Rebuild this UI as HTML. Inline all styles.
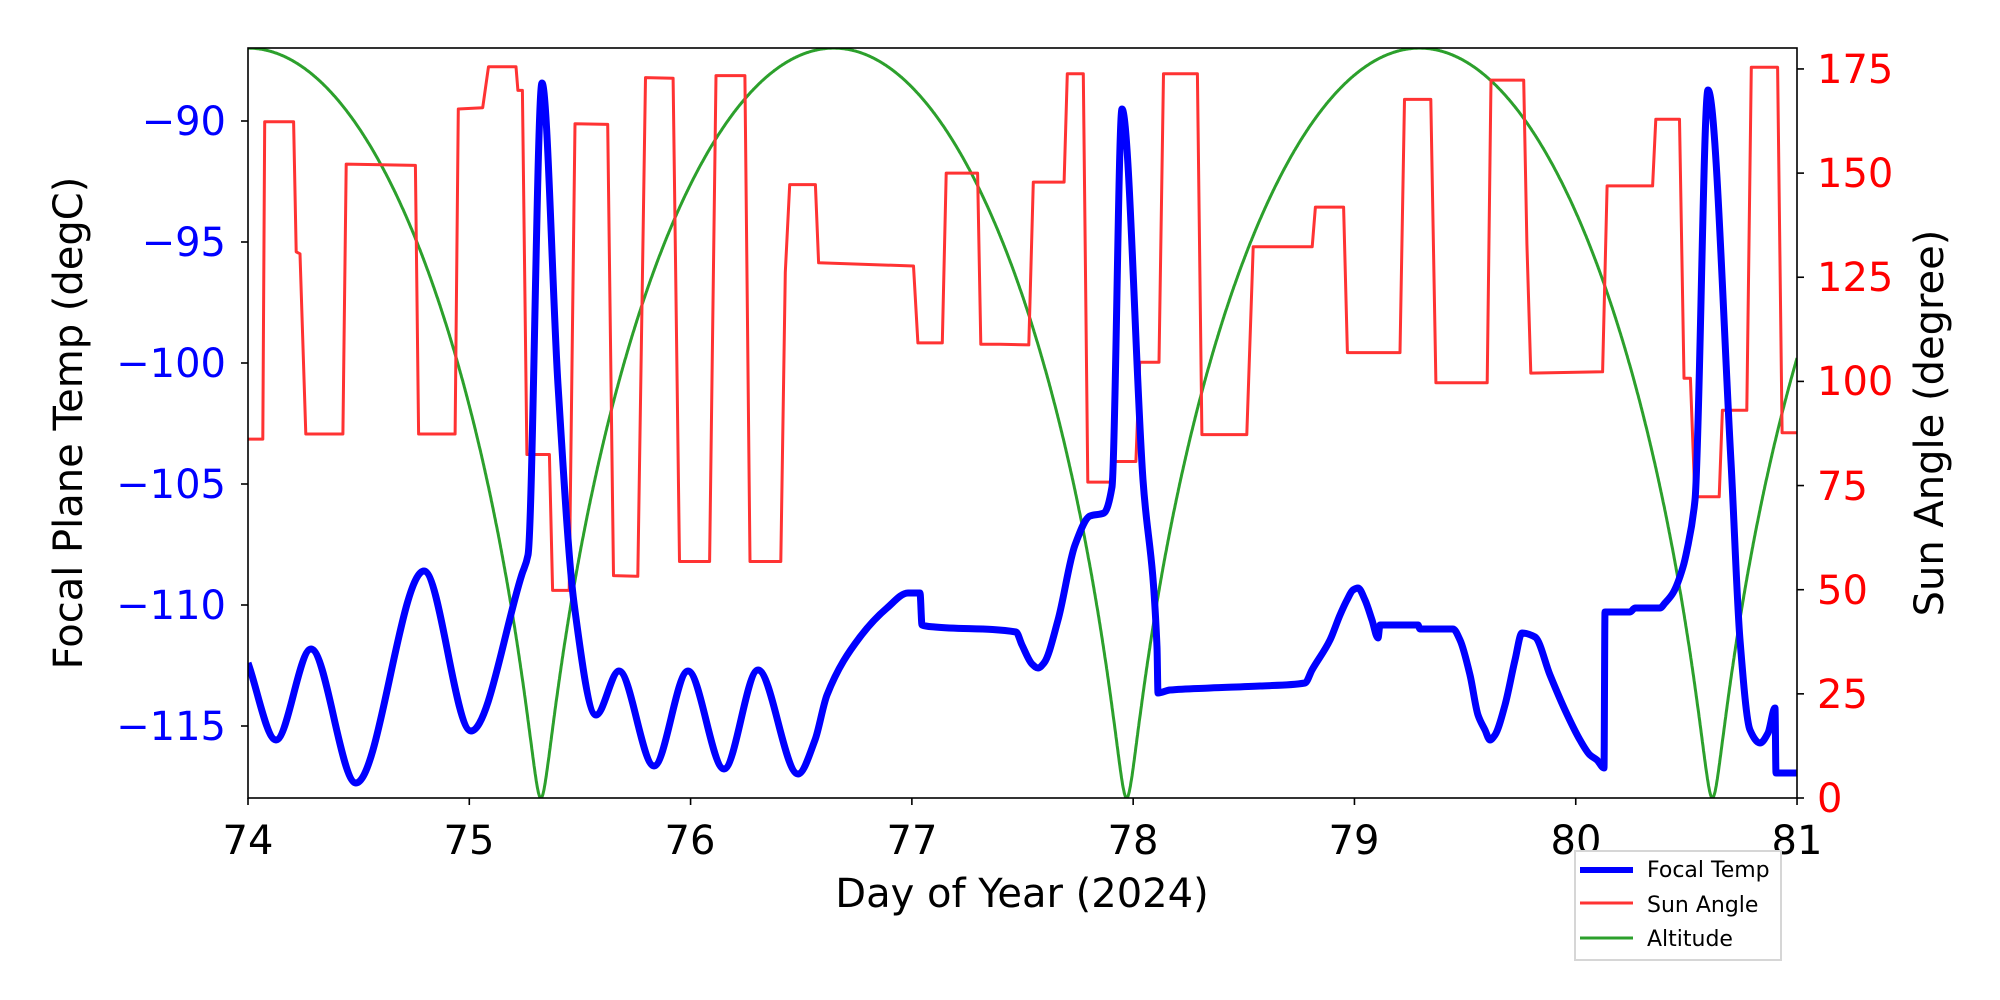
<!DOCTYPE html>
<html><head><meta charset="utf-8"><style>
html,body{margin:0;padding:0;background:#fff;}
svg{display:block;}
text{font-family:"DejaVu Sans","Liberation Sans",sans-serif;}
</style></head><body>
<svg id="s" width="2000" height="1000" xmlns="http://www.w3.org/2000/svg">
<rect width="2000" height="1000" fill="#fff"/>
<defs><clipPath id="c"><rect x="248" y="48" width="1549" height="750"/></clipPath></defs>
<g id="plot" clip-path="url(#c)"></g>
<rect x="248" y="48" width="1549" height="750" fill="none" stroke="#000" stroke-width="1.6"/>
<g id="ticks" stroke="#000" stroke-width="1.6"></g>
<g font-size="40" text-anchor="middle" fill="#000">
<text x="248" y="854">74</text><text x="469" y="854">75</text><text x="690" y="854">76</text><text x="912" y="854">77</text><text x="1133" y="854">78</text><text x="1354" y="854">79</text><text x="1576" y="854">80</text><text x="1797" y="854">81</text>
<text x="1022" y="907">Day of Year (2024)</text>
</g>
<g font-size="40" text-anchor="end" fill="#0000ff">
<text x="226" y="135">−90</text><text x="226" y="256">−95</text><text x="226" y="377">−100</text><text x="226" y="498">−105</text><text x="226" y="619">−110</text><text x="226" y="740">−115</text>
</g>
<g font-size="40" text-anchor="start" fill="#ff0000">
<text x="1817" y="812">0</text><text x="1817" y="708">25</text><text x="1817" y="604">50</text><text x="1817" y="500">75</text><text x="1817" y="395">100</text><text x="1817" y="291">125</text><text x="1817" y="187">150</text><text x="1817" y="83">175</text>
</g>
<text font-size="40" text-anchor="middle" transform="translate(82,423) rotate(-90)">Focal Plane Temp (degC)</text>
<text font-size="40" text-anchor="middle" transform="translate(1943,423) rotate(-90)">Sun Angle (degree)</text>
<rect x="1575" y="851" width="206" height="109" fill="#fff" stroke="#d6d6d6" stroke-width="2"/>
<line x1="1580" y1="870" x2="1633" y2="870" stroke="#0000ff" stroke-width="6"/>
<line x1="1580" y1="903" x2="1633" y2="903" stroke="#ff3333" stroke-width="3"/>
<line x1="1580" y1="938" x2="1633" y2="938" stroke="#2ca02c" stroke-width="3"/>
<g font-size="22" fill="#000"><text x="1647" y="877">Focal Temp</text><text x="1647" y="912">Sun Angle</text><text x="1647" y="946">Altitude</text></g>
</svg>
<script>
var NS="http://www.w3.org/2000/svg";
var plot=document.getElementById("plot"),ticks=document.getElementById("ticks");
function el(p,n,a){var e=document.createElementNS(NS,n);for(var k in a)e.setAttribute(k,a[k]);p.appendChild(e);return e;}
for(var d=74;d<=81;d++){var x=248+(d-74)*221.29;el(ticks,"line",{x1:x,y1:798,x2:x,y2:805});}
for(var i=0;i<6;i++){var y=121+i*121;el(ticks,"line",{x1:241,y1:y,x2:248,y2:y});}
for(var i=0;i<8;i++){var y=798-i*25*4.166;el(ticks,"line",{x1:1797,y1:y,x2:1804,y2:y});}
// altitude: Kepler orbit e=0.85
var P=2.647,e=0.85,g=[];
for(var i=0;i<=2800;i++){var t=74+7*i/2800;var ph=((t-74)/P+0.5);ph=ph-Math.floor(ph);var M=2*Math.PI*ph;
var E=M;for(var k=0;k<60;k++){E=E-(E-e*Math.sin(E)-M)/(1-e*Math.cos(E));}
var v=180*(1-Math.cos(E))/2;g.push((248+(t-74)*221.29).toFixed(1)+","+(798-v*4.166).toFixed(1));}
el(plot,"polyline",{points:g.join(" "),fill:"none",stroke:"#2ca02c","stroke-width":3});
function conv(a,off){var r=[];for(var i=0;i<a.length;i+=2)r.push([a[i]/1.56+off,a[i+1]/1.56]);return r;}
var r1=[387,685,410,685,413,190,458,190,462,393,468,396,477,677,535,677,540,256,648,258,653,677,710,677,715,170,753,168,762,104,805,104,808,141,815,141,822,709,857,709,862,921,888,921,897,193,948,194,957,898,995,899,1007,121,1050,122,1060,876,1107,876,1117,118,1162,118,1170,876,1218,876,1225,425,1232,288,1272,288,1277,410,1425,415,1432,535,1470,535,1476,270,1525,270,1530,537,1560,537];
var r2=[0,537,45,538,52,284,100,284,105,115,130,115,137,752,172,752,177,720,212,720,218,565,248,565,255,115,308,115,315,678,385,678,395,385,487,385,492,323,536,323,542,550,624,550,631,155,672,155,680,597,760,597,766,125,817,125,822,380,828,582,940,580,947,290,1018,290,1023,186,1060,186,1067,590,1077,590,1084,775,1122,775,1127,640,1165,640,1172,105,1213,105,1220,675,1245,675];
var rp=conv(r1,0).concat(conv(r2,1000));
el(plot,"polyline",{points:rp.map(function(p){return p[0].toFixed(1)+","+p[1].toFixed(1)}).join(" "),fill:"none",stroke:"#ff3333","stroke-width":3,"stroke-linejoin":"round"});
var B=[248,663,276,740,311,649,356,783,424,571,471,731,522,574,528,555,542,83,558,385,574,603,596,715,619,671,654,766,688,671,724,769,758,670,798,774,815,740,827,695,860,637,887,608,908,593,920,593,922,625,935,627,1016,632,1022,645,1032,664,1038,668,1044,663,1058,620,1075,545,1090,516,1104,513,1112,487,1122,109,1143,480,1157,647,1158,693,1170,690,1210,688,1260,686,1305,683,1312,670,1330,640,1340,615,1347,600,1353,590,1358,588,1365,600,1372,620,1378,638,1380,625,1383,625,1418,625,1420,629,1453,629,1460,640,1470,675,1478,715,1485,730,1490,740,1495,735,1505,705,1515,660,1522,633,1535,637,1550,675,1565,710,1580,740,1590,755,1597,760,1604,768,1605,612,1630,612,1635,608,1660,608,1665,603,1673,593,1683,567,1687,550,1695,500,1708,90,1731,462,1740,640,1750,730,1760,743,1768,733,1775,708,1776,773,1797,773];
var xs=[],ys=[];for(var i=0;i<B.length;i+=2){xs.push(B[i]);ys.push(B[i+1]);}
var n=xs.length,dl=[],m=[];
for(var i=0;i<n-1;i++)dl.push((ys[i+1]-ys[i])/(xs[i+1]-xs[i]));
m[0]=dl[0];m[n-1]=dl[n-2];
for(var i=1;i<n-1;i++){if(dl[i-1]*dl[i]<=0)m[i]=0;else{var w1=2*(xs[i+1]-xs[i])+(xs[i]-xs[i-1]),w2=(xs[i+1]-xs[i])+2*(xs[i]-xs[i-1]);m[i]=(w1+w2)/(w1/dl[i-1]+w2/dl[i]);}}
var d="M"+xs[0]+","+ys[0];
for(var i=0;i<n-1;i++){var h=xs[i+1]-xs[i];d+=" C"+(xs[i]+h/3).toFixed(2)+","+(ys[i]+m[i]*h/3).toFixed(2)+" "+(xs[i+1]-h/3).toFixed(2)+","+(ys[i+1]-m[i+1]*h/3).toFixed(2)+" "+xs[i+1]+","+ys[i+1];}
el(plot,"path",{d:d,fill:"none",stroke:"#0000ff","stroke-width":7,"stroke-linejoin":"round"});
</script>
</body></html>
